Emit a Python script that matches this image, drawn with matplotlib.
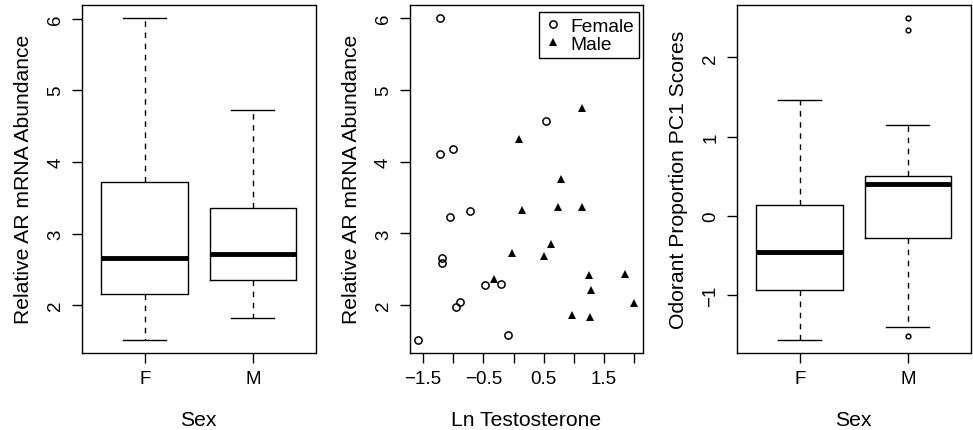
import matplotlib

matplotlib.use("Agg")
import matplotlib.pyplot as plt
from matplotlib.lines import Line2D

plt.rcParams["font.family"] = ["Liberation Sans", "DejaVu Sans"]
plt.rcParams["font.size"] = 13.5

# --- data ---
sexes = ["F", "M"]
stat_keys = ["whislo", "q1", "med", "q3", "whishi"]

# five-number summaries (lower whisker, Q1, median, Q3, upper whisker)
ar_female_stats = [1.52, 2.16, 2.66, 3.72, 6.01]
ar_male_stats = [1.82, 2.35, 2.72, 3.35, 4.73]
pc1_female_stats = [-1.56, -0.94, -0.45, 0.14, 1.46]
pc1_male_stats = [-1.40, -0.28, 0.41, 0.51, 1.15]
pc1_female_outliers = []
pc1_male_outliers = [2.50, 2.35, -1.52]

female_ln_t = [-1.58, -1.05, -0.72, -1.18, -1.19, -0.89, -0.96,
               -0.48, -0.20, -0.09, -1.22, -1.22, -1.01, 0.53]
female_ar = [1.52, 3.23, 3.31, 2.66, 2.58, 2.05, 1.97,
             2.28, 2.29, 1.58, 6.00, 4.11, 4.18, 4.56]
male_ln_t = [0.14, 0.74, 1.13, 0.62, -0.03, 0.50, -0.32, 1.25,
             1.85, 1.28, 2.00, 0.97, 1.26, 1.14, 0.09, 0.78]
male_ar = [3.33, 3.36, 3.37, 2.85, 2.73, 2.69, 2.37, 2.42,
           2.43, 2.21, 2.03, 1.86, 1.84, 4.74, 4.31, 3.76]

ln_t_ticks = [-1.5, -1.0, -0.5, 0.0, 0.5, 1.0, 1.5, 2.0]
ln_t_labels = ["\u22121.5", "", "\u22120.5", "", "0.5", "", "1.5", ""]

LABEL_SIZE = 15.2
W, H = 973, 431
fig = plt.figure(figsize=(W / 100, H / 100), dpi=100)


def panel(left_px):
    ax = fig.add_axes([left_px / W, 1 - 353.5 / H, 233.5 / W, 347.5 / H])
    for s in ax.spines.values():
        s.set_linewidth(1.0)
    ax.tick_params(direction="out", length=7.2, width=1.0)
    ax.tick_params(axis="x", pad=5.5)
    ax.tick_params(axis="y", pad=5.5, labelrotation=90)
    return ax


def set_labels(ax, xlabel, ylabel):
    ax.set_xlabel(xlabel, fontsize=LABEL_SIZE)
    ax.set_ylabel(ylabel, fontsize=LABEL_SIZE)
    ax.xaxis.set_label_coords(0.5, -0.165)
    ax.yaxis.set_label_coords(-0.208, 0.5)
    for lab in ax.get_yticklabels():
        lab.set_va("center")
        lab.set_ha("right")


def r_boxplot(ax, stats_list, outliers_list):
    stats = []
    for vals, fl, name in zip(stats_list, outliers_list, sexes):
        d = dict(zip(stat_keys, vals))
        d["fliers"] = fl
        d["label"] = name
        stats.append(d)
    ax.bxp(
        stats,
        positions=[1, 2],
        widths=0.8,
        boxprops=dict(color="black", linewidth=1.0),
        medianprops=dict(color="black", linewidth=3.5, solid_capstyle="butt"),
        whiskerprops=dict(color="black", linewidth=1.0, linestyle=(0, (4, 4))),
        capprops=dict(color="black", linewidth=1.0),
        flierprops=dict(marker="o", markersize=3.4, markerfacecolor="none",
                        markeredgecolor="black", markeredgewidth=1.1),
    )
    ax.set_xlim(0.5 - 0.08, len(sexes) + 0.5 + 0.08)
    ax.margins(y=0.04)


# panel 1: AR abundance by sex
ax1 = panel(82)
r_boxplot(ax1, [ar_female_stats, ar_male_stats], [[], []])
ax1.set_yticks([2, 3, 4, 5, 6])
set_labels(ax1, "Sex", "Relative AR mRNA Abundance")

# panel 2: AR abundance vs testosterone
ax2 = panel(409.5)
ax2.plot(female_ln_t, female_ar, linestyle="none", marker="o", markersize=5.2,
         markerfacecolor="none", markeredgecolor="black", markeredgewidth=1.1)
ax2.plot(male_ln_t, male_ar, linestyle="none", marker="^", markersize=6.2,
         color="black", markeredgewidth=0)
ax2.margins(x=0.04, y=0.04)
ax2.set_xticks(ln_t_ticks)
ax2.set_xticklabels(ln_t_labels)
ax2.set_yticks([2, 3, 4, 5, 6])
set_labels(ax2, "Ln Testosterone", "Relative AR mRNA Abundance")
handles = [
    Line2D([], [], linestyle="none", marker="o", markersize=5.2,
           markerfacecolor="none", markeredgecolor="black", markeredgewidth=1.1),
    Line2D([], [], linestyle="none", marker="^", markersize=6.2,
           color="black", markeredgewidth=0),
]
leg = ax2.legend(handles, ["Female", "Male"], loc="upper right",
                 bbox_to_anchor=(0.985, 0.98), fancybox=False, framealpha=1,
                 edgecolor="black", handlelength=0.8, handletextpad=0.5,
                 borderpad=0.3, labelspacing=0.0, borderaxespad=0,
                 fontsize=13.8)
leg.get_frame().set_linewidth(1.0)

# panel 3: odorant PC1 by sex
ax3 = panel(737)
r_boxplot(ax3, [pc1_female_stats, pc1_male_stats],
          [pc1_female_outliers, pc1_male_outliers])
ax3.set_yticks([-1, 0, 1, 2])
ax3.set_yticklabels(["\u22121", "0", "1", "2"])
set_labels(ax3, "Sex", "Odorant Proportion PC1 Scores")

fig.savefig("out.png", dpi=100)
